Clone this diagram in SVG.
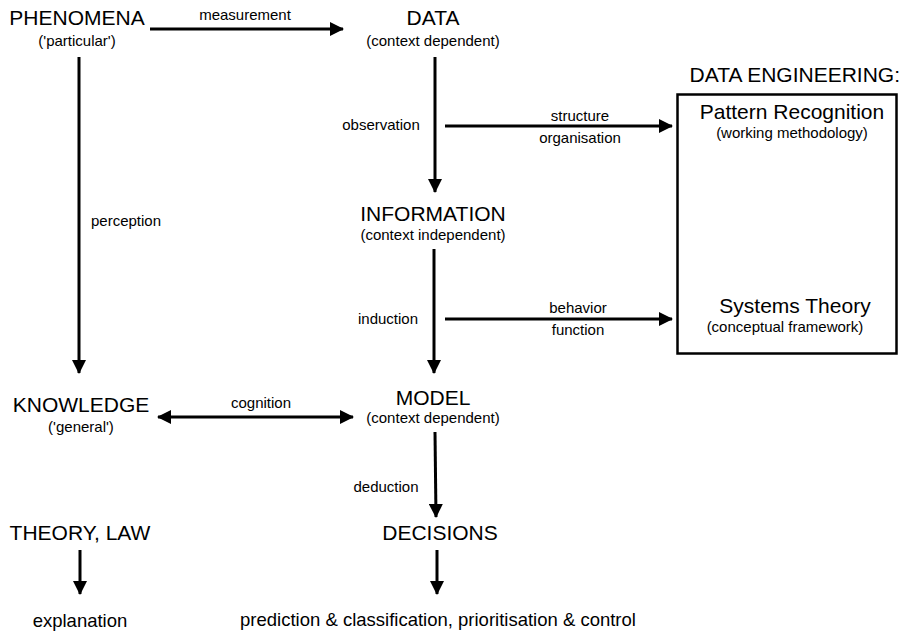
<svg xmlns="http://www.w3.org/2000/svg" width="901" height="633" viewBox="0 0 901 633">
<defs>
<marker id="ah" viewBox="0 0 14 14" refX="13" refY="7" markerWidth="14" markerHeight="14" markerUnits="userSpaceOnUse" orient="auto-start-reverse">
<path d="M0,0 L14,7 L0,14 z" fill="#000"/>
</marker>
<style>
text{font-family:"Liberation Sans",Arial,sans-serif;fill:#000;text-anchor:middle}
.h{font-size:21px}
.s{font-size:15px}
.l{font-size:15px}
.b{font-size:18.5px}
.c{stroke:#000;stroke-width:3;fill:none;marker-end:url(#ah)}
</style>
</defs>
<rect width="901" height="633" fill="#fff"/>
<g id="phenomena"><text class="h" x="77" y="25">PHENOMENA</text><text class="s" x="77" y="46">('particular')</text></g>
<g id="data"><text class="h" x="433" y="25">DATA</text><text class="s" x="433" y="46">(context dependent)</text></g>
<g id="information"><text class="h" x="433" y="221">INFORMATION</text><text class="s" x="433" y="240">(context independent)</text></g>
<g id="model"><text class="h" x="433" y="405">MODEL</text><text class="s" x="433" y="423">(context dependent)</text></g>
<g id="decisions"><text class="h" x="440" y="540">DECISIONS</text></g>
<g id="knowledge"><text class="h" x="81" y="412">KNOWLEDGE</text><text class="s" x="81" y="432">('general')</text></g>
<g id="theory"><text class="h" x="80" y="540">THEORY, LAW</text></g>
<g id="explanation"><text class="b" x="80" y="627">explanation</text></g>
<g id="prediction"><text class="b" x="438" y="626">prediction &amp; classification, prioritisation &amp; control</text></g>
<g id="data-engineering">
<text class="h" x="900" y="82" style="text-anchor:end">DATA ENGINEERING:</text>
<rect x="677.5" y="94.5" width="219" height="259" fill="none" stroke="#000" stroke-width="2.5"/>
<text class="h" x="792" y="119">Pattern Recognition</text>
<text class="s" x="792" y="138">(working methodology)</text>
<text class="h" x="795" y="313">Systems Theory</text>
<text class="s" x="785" y="332">(conceptual framework)</text>
</g>
<g id="connectors">
<line class="c" x1="150" y1="29" x2="343" y2="29"/>
<text class="l" x="245" y="20">measurement</text>
<line class="c" x1="79" y1="57" x2="79" y2="373"/>
<text class="l" x="126" y="226">perception</text>
<line class="c" x1="435" y1="57" x2="435" y2="192"/>
<text class="l" x="381" y="130">observation</text>
<line class="c" x1="445" y1="126" x2="672" y2="126"/>
<text class="l" x="580" y="121">structure</text>
<text class="l" x="580" y="143">organisation</text>
<line class="c" x1="434" y1="249" x2="434" y2="373"/>
<text class="l" x="388" y="324">induction</text>
<line class="c" x1="445" y1="319" x2="672" y2="319"/>
<text class="l" x="578" y="313">behavior</text>
<text class="l" x="578" y="335">function</text>
<line class="c" x1="158" y1="417" x2="353" y2="417" style="marker-start:url(#ah)"/>
<text class="l" x="261" y="408">cognition</text>
<line class="c" x1="435" y1="432" x2="436" y2="517"/>
<text class="l" x="386" y="492">deduction</text>
<line class="c" x1="80" y1="550" x2="80" y2="594"/>
<line class="c" x1="437" y1="550" x2="437" y2="594"/>
</g>
</svg>
